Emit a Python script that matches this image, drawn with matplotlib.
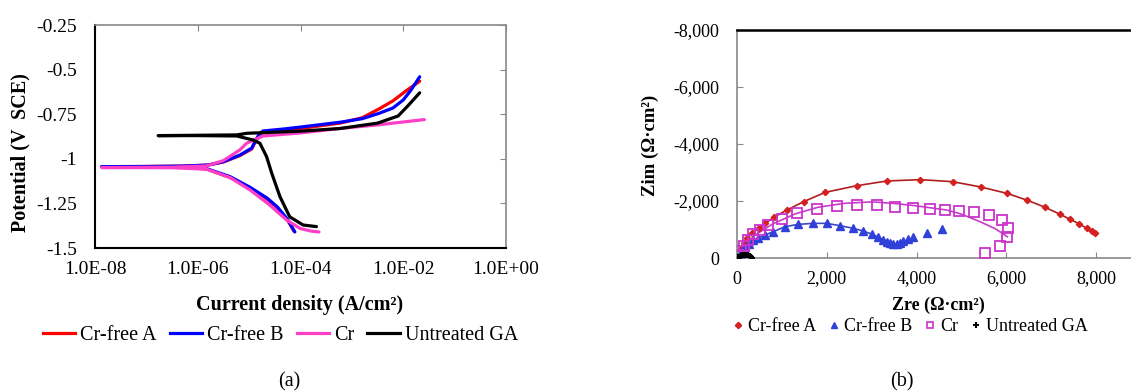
import matplotlib
matplotlib.use("Agg")
import numpy as np
import matplotlib.pyplot as plt
from matplotlib.lines import Line2D

plt.rcParams['font.family'] = ['Liberation Serif', 'DejaVu Serif']
plt.rcParams['font.size'] = 12

# ---- (a) polarization curves: log10 current density (A/cm2) and potential (V SCE)
series_a = ["Cr-free A", "Cr-free B", "Cr", "Untreated GA"]
colors_a = ["#ff0000", "#0000ff", "#ff3fc8", "#000000"]

a_logi = [-4.13, -4.25, -4.45, -4.65, -4.98, -5.37, -5.83, -6.3, -7.0, -7.87,
          -7.0, -6.3, -5.8, -5.5, -5.18, -4.95, -4.88, -4.80, -4.73, -4.3,
          -4.0, -3.23, -2.8, -2.47, -2.2, -1.95, -1.68]
a_pot = [-1.405, -1.345, -1.275, -1.225, -1.165, -1.105, -1.057, -1.047, -1.045, -1.044,
         -1.043, -1.041, -1.035, -1.018, -0.982, -0.945, -0.905, -0.865, -0.852, -0.84,
         -0.83, -0.80, -0.77, -0.72, -0.675, -0.62, -0.565]

b_logi = [-4.11, -4.25, -4.45, -4.65, -4.98, -5.37, -5.83, -6.3, -7.0, -7.87,
          -7.0, -6.3, -5.8, -5.5, -5.18, -4.95, -4.88, -4.80, -4.73, -4.3,
          -4.0, -3.23, -2.8, -2.47, -2.2, -2.0, -1.85, -1.68]
b_pot = [-1.41, -1.34, -1.27, -1.22, -1.16, -1.10, -1.055, -1.046, -1.045, -1.044,
         -1.043, -1.041, -1.035, -1.016, -0.979, -0.94, -0.90, -0.86, -0.844, -0.832,
         -0.822, -0.795, -0.775, -0.745, -0.715, -0.67, -0.615, -0.54]

c_logi = [-3.64, -3.8, -4.01, -4.27, -4.60, -4.98, -5.37, -5.83, -6.5, -7.87,
          -6.5, -5.83, -5.5, -5.18, -5.05, -4.95, -4.73, -4.0, -3.23, -2.5, -1.59]
c_pot = [-1.41, -1.405, -1.39, -1.343, -1.259, -1.175, -1.105, -1.058, -1.05, -1.049,
         -1.047, -1.04, -1.01, -0.95, -0.913, -0.90, -0.872, -0.855, -0.83, -0.81, -0.78]

g_logi = [-3.69, -3.95, -4.21, -4.40, -4.56, -4.66, -4.79, -4.92, -5.24, -6.0, -6.77,
          -6.0, -5.24, -5.05, -4.0, -3.23, -2.5, -2.1, -1.9, -1.68]
g_pot = [-1.380, -1.371, -1.325, -1.212, -1.081, -0.988, -0.913, -0.895, -0.872, -0.870, -0.870,
         -0.868, -0.866, -0.857, -0.845, -0.83, -0.80, -0.76, -0.70, -0.63]

a_xticks = [1e-8, 1e-6, 1e-4, 1e-2, 1e0]
a_xticklabels = ["1.0E-08", "1.0E-06", "1.0E-04", "1.0E-02", "1.0E+00"]
a_yticks = [-0.25, -0.5, -0.75, -1, -1.25, -1.5]
a_yticklabels = ["-0.25", "-0.5", "-0.75", "-1", "-1.25", "-1.5"]

# ---- (b) Nyquist plots: Zre and Zim (ohm cm2)
red_zre = [74, 148, 223, 334, 482, 631, 816, 1113, 1484, 1966, 2671, 3339, 4081, 4801,
           5431, 6010, 6470, 6864, 7183, 7420, 7628, 7791, 7902, 7977]
red_zim = [-281, -515, -690, -866, -1041, -1217, -1427, -1685, -1977, -2305, -2539, -2703,
           -2750, -2679, -2492, -2270, -2024, -1778, -1544, -1357, -1193, -1041, -936, -866]

blue_zre = [20, 60, 110, 180, 260, 364, 475, 624, 809, 1069, 1366, 1700, 1998, 2294, 2591,
            2813, 3000, 3148, 3259, 3333, 3408, 3482, 3556, 3630, 3704, 3816, 3927, 4224, 4559]
blue_zim = [-40, -120, -240, -380, -500, -632, -690, -807, -924, -1099, -1181, -1216, -1216,
            -1135, -1041, -947, -842, -725, -632, -573, -515, -491, -491, -538, -596, -655,
            -749, -889, -1018]
blue_fit_n = 24

pink_zre = [30, 80, 150, 250, 364, 520, 698, 995, 1343, 1774, 2226, 2671, 3116, 3525, 3918,
            4289, 4638, 4934, 5268, 5602, 5899, 6047, 6010, 5862, 5528]
pink_zim = [-90, -250, -420, -620, -842, -1000, -1158, -1357, -1567, -1708, -1825, -1860,
            -1860, -1802, -1767, -1708, -1685, -1650, -1615, -1509, -1334, -1041, -725, -433, -164]
pink_fit_zre = [0, 150, 400, 800, 1300, 1800, 2400, 3000, 3482, 4000, 4670, 5000, 5412, 5750, 6021]
pink_fit_zim = [0, -400, -800, -1200, -1550, -1780, -1920, -1970, -1918, -1830, -1684,
                -1540, -1275, -1030, -749]

black_zre = [20, 50, 80, 120, 160, 200, 240, 280, 310, 330]
black_zim = [-20, -50, -70, -90, -100, -100, -90, -70, -40, -10]

b_xticks = [0, 2000, 4000, 6000, 8000]
b_xticklabels = ["0", "2,000", "4,000", "6,000", "8,000"]
b_yticks = [-8000, -6000, -4000, -2000, 0]
b_yticklabels = ["-8,000", "-6,000", "-4,000", "-2,000", "0"]

fig = plt.figure(figsize=(11.31, 3.92), dpi=100)

# ---------- panel (a)
ax1 = fig.add_axes([0.0840, 0.3673, 0.3634, 0.5689])
curves = [(a_logi, a_pot), (b_logi, b_pot), (c_logi, c_pot), (g_logi, g_pot)]
for (lx, ly), col, name in zip(curves, colors_a, series_a):
    ax1.plot(10.0 ** np.array(lx), ly, color=col, lw=2.3, label=name,
             solid_capstyle='round', solid_joinstyle='round')
ax1.set_xscale('log')
ax1.set_xlim(1e-8, 1e0)
ax1.set_ylim(-1.5, -0.25)
ax1.set_xticks(a_xticks)
ax1.set_xticklabels(a_xticklabels)
ax1.xaxis.set_minor_locator(matplotlib.ticker.NullLocator())
ax1.set_yticks(a_yticks)
ax1.set_yticklabels(a_yticklabels)
ax1.tick_params(axis='both', which='both', direction='in', bottom=False, left=False,
                top=True, right=True, color='#888888', length=4, labelsize=14)
ax1.tick_params(axis='x', pad=9)
ax1.tick_params(axis='y', pad=13)
for s in ('top', 'right'):
    ax1.spines[s].set_color('#888888')
    ax1.spines[s].set_linewidth(1.2)
for s in ('left', 'bottom'):
    ax1.spines[s].set_color('black')
    ax1.spines[s].set_linewidth(1.5)

fig.text(0.0177, 0.61, "Potential (V  SCE)", rotation=90, ha='center', va='center',
         fontsize=14.5, fontweight='bold')
fig.text(0.265, 0.222, "Current density (A/cm²)", ha='center', va='center',
         fontsize=14.5, fontweight='bold')
handles_a = [Line2D([], [], color=c, lw=2.3) for c in colors_a]
fig.legend(handles_a, series_a, loc='center', bbox_to_anchor=(0.248, 0.143), ncol=4,
           frameon=False, handlelength=1.6, handletextpad=0.25, columnspacing=0.65,
           fontsize=14.5, borderpad=0)
fig.text(0.256, 0.0255, "(a)", ha='center', va='center', fontsize=14.5)

# ---------- panel (b)
ax2 = fig.add_axes([0.6516, 0.3418, 0.3484, 0.5816])
ax2.plot(red_zre, red_zim, color='#b01e1e', lw=1.2, zorder=2)
ax2.plot(red_zre, red_zim, ls='none', marker='D', ms=3.2, color='#d42020', zorder=3)
ax2.plot(blue_zre[:blue_fit_n], blue_zim[:blue_fit_n], color='#3a48c8', lw=1.2, zorder=2)
ax2.plot(blue_zre, blue_zim, ls='none', marker='^', ms=6, color='#3040d8', zorder=3)
ax2.plot(pink_fit_zre, pink_fit_zim, color='#c83cc8', lw=1.2, zorder=2)
ax2.plot(pink_zre, pink_zim, ls='none', marker='s', ms=6.5, mfc='none', mec='#cc33cc',
         mew=1.3, zorder=3)
ax2.plot(black_zre, black_zim, ls='none', marker='+', ms=5, mew=1.6, color='black', zorder=4)
ax2.set_xlim(0, 8775)
ax2.set_ylim(0, -8000)
ax2.set_xticks(b_xticks)
ax2.set_xticklabels(b_xticklabels)
ax2.set_yticks(b_yticks)
ax2.set_yticklabels(b_yticklabels)
ax2.tick_params(axis='both', direction='in', color='#888888', length=4, labelsize=13)
ax2.tick_params(axis='x', pad=9)
ax2.tick_params(axis='y', pad=13)
ax2.spines['right'].set_visible(False)
ax2.spines['top'].set_color('black')
ax2.spines['top'].set_linewidth(1.8)
for s in ('left', 'bottom'):
    ax2.spines[s].set_color('#888888')
    ax2.spines[s].set_linewidth(1.2)

fig.text(0.5747, 0.63, "Zim (Ω·cm²)", rotation=90, ha='center', va='center',
         fontsize=13.5, fontweight='bold')
fig.text(0.830, 0.222, "Zre (Ω·cm²)", ha='center', va='center',
         fontsize=13, fontweight='bold')
handles_b = [
    Line2D([], [], ls='none', marker='D', ms=3.2, color='#d42020'),
    Line2D([], [], ls='none', marker='^', ms=5, color='#3040d8'),
    Line2D([], [], ls='none', marker='s', ms=5, mfc='none', mec='#cc33cc', mew=1.2),
    Line2D([], [], ls='none', marker='+', ms=5, mew=1.5, color='black'),
]
fig.legend(handles_b, series_a, loc='center', bbox_to_anchor=(0.805, 0.166), ncol=4,
           frameon=False, handlelength=0.5, handletextpad=0.3, columnspacing=0.75,
           fontsize=13, borderpad=0)
fig.text(0.7975, 0.0255, "(b)", ha='center', va='center', fontsize=14.5)

fig.savefig("out.png", dpi=100)
